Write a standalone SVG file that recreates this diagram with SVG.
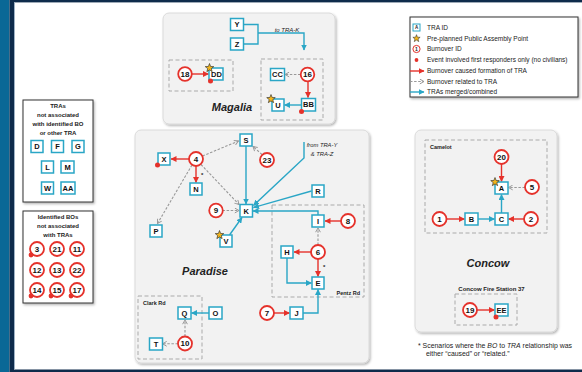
<svg xmlns="http://www.w3.org/2000/svg" xmlns:xlink="http://www.w3.org/1999/xlink" width="582" height="372" viewBox="0 0 582 372">
<defs>
<style>
.panel{fill:#f2f2f2;stroke:#d4d4d4;stroke-width:0.8;filter:url(#sh)}
.wpanel{fill:#fff;stroke:#333;stroke-width:1;filter:url(#sh)}
.dash{fill:none;stroke:#aaa;stroke-width:1;stroke-dasharray:4 2.5}
.box{fill:#fff;stroke:#2aa6c6;stroke-width:1.5}
.bo{fill:#fff;stroke:#e5322b;stroke-width:1.8}
.lbl{font-family:"Liberation Sans",Arial,sans-serif;font-weight:bold;font-size:7.5px;text-anchor:middle;fill:#111}
.num{font-family:"Liberation Sans",Arial,sans-serif;font-weight:bold;font-size:8px;text-anchor:middle;fill:#111}
.t{font-family:"Liberation Sans",Arial,sans-serif;fill:#222}
.b{font-weight:bold}
.ttl{font-family:"Liberation Sans",Arial,sans-serif;font-weight:bold;font-style:italic;font-size:11px;text-anchor:middle;fill:#222}
.red{fill:none;stroke:#e5322b;stroke-width:1.4;marker-end:url(#mr)}
.cy{fill:none;stroke:#2aa6c6;stroke-width:1.4;marker-end:url(#mc)}
.gr{fill:none;stroke:#999;stroke-width:1.1;stroke-dasharray:2.5 1.6;marker-end:url(#mg)}
.dot{fill:#e5322b}
.star{fill:#f2b51c;stroke:#222;stroke-width:0.6}
</style>
<filter id="sh" x="-10%" y="-10%" width="125%" height="125%">
<feDropShadow dx="1.2" dy="1.5" stdDeviation="1.2" flood-color="#000" flood-opacity="0.3"/>
</filter>
<marker id="mr" markerUnits="userSpaceOnUse" markerWidth="6" markerHeight="6" refX="5.5" refY="3" orient="auto"><path d="M0,0 L6,3 L0,6 z" fill="#e5322b"/></marker>
<marker id="mc" markerUnits="userSpaceOnUse" markerWidth="6" markerHeight="6" refX="5.5" refY="3" orient="auto"><path d="M0,0 L6,3 L0,6 z" fill="#2aa6c6"/></marker>
<marker id="mg" markerUnits="userSpaceOnUse" markerWidth="6" markerHeight="6" refX="5" refY="3" orient="auto"><path d="M0.8,0.6 L5,3 L0.8,5.4" fill="none" stroke="#999" stroke-width="1"/></marker>
<path id="star" class="star" d="M0,-4.5 L1.12,-1.54 L4.28,-1.39 L1.81,0.59 L2.65,3.64 L0,1.9 L-2.65,3.64 L-1.81,0.59 L-4.28,-1.39 L-1.12,-1.54 Z"/>
</defs>

<!-- frame -->
<rect x="0" y="0" width="582" height="372" fill="#fff"/>
<rect x="0" y="0" width="9.5" height="372" fill="#0a6896"/>
<rect x="9.5" y="0" width="4.5" height="372" fill="#0e2b4b"/>
<rect x="14" y="0" width="568" height="2.4" fill="#0e2b4b"/>
<rect x="14" y="369.5" width="568" height="2.5" fill="#0e2b4b"/>
<rect x="14" y="2.4" width="1" height="367" fill="#9fb3c6"/>

<!-- panels -->
<g id="magalia-panel">
<rect class="panel" x="163" y="13" width="172" height="111" rx="6"/>
<rect class="dash" x="169" y="60" width="64" height="31"/>
<rect class="dash" x="261" y="59" width="62" height="61"/>
<text class="ttl" x="232" y="111">Magalia</text>
<text class="t" x="287" y="32" font-size="6" font-style="italic" text-anchor="middle">to TRA-K</text>
</g>
<g id="paradise-panel">
<rect class="panel" x="135" y="130" width="234" height="233" rx="6"/>
<rect class="dash" x="272" y="205" width="92" height="92"/>
<rect class="dash" x="138" y="296" width="64" height="63"/>
<text class="ttl" x="205" y="275">Paradise</text>
<text class="t b" x="360" y="294.5" font-size="5.5" text-anchor="end">Pentz Rd</text>
<text class="t b" x="143" y="305" font-size="5.5">Clark Rd</text>
<text class="t" font-size="5.8" font-style="italic" text-anchor="middle"><tspan x="322" y="147">from TRA-Y</tspan><tspan x="322" y="156">&amp; TRA-Z</tspan></text>
</g>
<g id="concow-panel">
<rect class="panel" x="415" y="130" width="142" height="202" rx="6"/>
<rect class="dash" x="425" y="140" width="122" height="93"/>
<rect class="dash" x="455" y="294" width="62" height="31"/>
<text class="t b" x="430" y="149" font-size="5.5">Camelot</text>
<text class="ttl" x="488" y="267">Concow</text>
<text class="t b" x="491.5" y="290.5" font-size="6" text-anchor="middle">Concow Fire Station 37</text>
</g>

<!-- left panels -->
<g id="unassoc-tras">
<rect class="wpanel" x="23" y="100" width="70" height="102"/>
<text class="t b" font-size="6" text-anchor="middle"><tspan x="58" y="107.5">TRAs</tspan><tspan x="58" y="116.5">not associated</tspan><tspan x="58" y="125.5">with identified BO</tspan><tspan x="58" y="134.5">or other TRA</tspan></text>
<g id="D"><rect class="box" x="31" y="140.5" width="12" height="12"/><text class="lbl" x="37" y="149.2">D</text></g>
<g id="F"><rect class="box" x="51.5" y="140.5" width="12" height="12"/><text class="lbl" x="57.5" y="149.2">F</text></g>
<g id="G"><rect class="box" x="72" y="140.5" width="12" height="12"/><text class="lbl" x="78" y="149.2">G</text></g>
<g id="L"><rect class="box" x="41.5" y="161" width="12" height="12"/><text class="lbl" x="47.5" y="169.7">L</text></g>
<g id="M"><rect class="box" x="61" y="161" width="13" height="12"/><text class="lbl" x="67.5" y="169.7">M</text></g>
<g id="W"><rect class="box" x="41.5" y="182" width="12" height="12"/><text class="lbl" x="47.5" y="190.7">W</text></g>
<g id="AA"><rect class="box" x="61" y="182" width="14" height="12"/><text class="lbl" x="68" y="190.7">AA</text></g>
</g>
<g id="unassoc-bos">
<rect class="wpanel" x="23" y="211" width="70" height="92"/>
<text class="t b" font-size="6" text-anchor="middle"><tspan x="58" y="219">Identified BOs</tspan><tspan x="58" y="228">not associated</tspan><tspan x="58" y="237">with TRAs</tspan></text>
<g id="BO3"><circle class="bo" cx="37" cy="249" r="7"/><text class="num" x="37" y="251.9">3</text><circle class="dot" cx="31" cy="255" r="2.4"/></g>
<g id="BO21"><circle class="bo" cx="57" cy="249" r="7"/><text class="num" x="57" y="251.9">21</text></g>
<g id="BO11"><circle class="bo" cx="77" cy="249" r="7"/><text class="num" x="77" y="251.9">11</text></g>
<g id="BO12"><circle class="bo" cx="37" cy="270" r="7"/><text class="num" x="37" y="272.9">12</text></g>
<g id="BO13"><circle class="bo" cx="57" cy="270" r="7"/><text class="num" x="57" y="272.9">13</text></g>
<g id="BO22"><circle class="bo" cx="77" cy="270" r="7"/><text class="num" x="77" y="272.9">22</text></g>
<g id="BO14"><circle class="bo" cx="37" cy="290" r="7"/><text class="num" x="37" y="292.9">14</text><circle class="dot" cx="31" cy="296" r="2.4"/></g>
<g id="BO15"><circle class="bo" cx="57" cy="290" r="7"/><text class="num" x="57" y="292.9">15</text><circle class="dot" cx="51" cy="296" r="2.4"/></g>
<g id="BO17"><circle class="bo" cx="77" cy="290" r="7"/><text class="num" x="77" y="292.9">17</text><circle class="dot" cx="71" cy="296" r="2.4"/></g>
</g>

<!-- legend -->
<g id="legend">
<rect class="wpanel" x="410" y="17" width="168" height="80"/>
<rect x="413" y="24" width="7" height="7" fill="#fff" stroke="#2aa6c6" stroke-width="1"/>
<text class="t b" x="416.5" y="29.3" font-size="4.5" text-anchor="middle">A</text>
<use href="#star" xlink:href="#star" transform="translate(416.5,38.5) scale(0.85)"/>
<circle cx="416.5" cy="49" r="3.6" fill="#fff" stroke="#e5322b" stroke-width="1"/>
<text class="t b" x="416.5" y="50.8" font-size="5" text-anchor="middle">1</text>
<circle class="dot" cx="416.5" cy="60" r="1.9"/>
<line class="red" x1="410" y1="71" x2="424" y2="71"/>
<line class="gr" x1="410" y1="81.5" x2="424" y2="81.5"/>
<line class="cy" x1="410" y1="92" x2="424" y2="92"/>
<g class="t" font-size="6.5" fill="#111">
<text x="427" y="29.7">TRA ID</text>
<text x="427" y="40.7">Pre-planned Public Assembly Point</text>
<text x="427" y="51.2">Burnover ID</text>
<text x="427" y="62.2">Event involved first responders only (no civilians)</text>
<text x="427" y="73.2">Burnover caused formation of TRA</text>
<text x="427" y="83.7">Burnover related to TRA</text>
<text x="427" y="94.2">TRAs merged/combined</text>
</g>
</g>

<!-- connectors -->
<g id="connectors">
<!-- Magalia -->
<path fill="none" stroke="#2aa6c6" stroke-width="1.4" d="M244,24.5 H258 V44 H244"/>
<path class="cy" d="M258,33 H304 V50"/>
<line class="red" x1="191.5" y1="74" x2="208.5" y2="74"/>
<line class="gr" x1="300.5" y1="74.5" x2="285" y2="74.5"/>
<line class="red" x1="308" y1="81.5" x2="308" y2="97.5"/>
<line class="cy" x1="301" y1="105" x2="284.5" y2="105"/>
<!-- Paradise -->
<line class="red" x1="189" y1="159" x2="171" y2="159"/>
<line class="red" x1="196" y1="166" x2="196" y2="182.5"/>
<line class="gr" x1="202.5" y1="156" x2="238.5" y2="141"/>
<line class="gr" x1="201" y1="164.5" x2="239" y2="204.5"/>
<line class="gr" x1="192" y1="165" x2="157.5" y2="223.5"/>
<line class="gr" x1="262" y1="154.5" x2="253" y2="146.5"/>
<line class="cy" x1="246" y1="146" x2="246" y2="204"/>
<line class="gr" x1="222.5" y1="210.5" x2="239" y2="210.5"/>
<line class="cy" x1="229.5" y1="235" x2="242" y2="217.5"/>
<path class="cy" d="M304,142 V158 L253.5,205.5"/>
<line class="cy" x1="311.5" y1="191" x2="253.5" y2="207.5"/>
<path class="cy" d="M318,215 V211 H253"/>
<line class="red" x1="341" y1="221" x2="325" y2="221"/>
<line class="gr" x1="318" y1="245" x2="318" y2="228"/>
<line class="red" x1="311" y1="252" x2="294" y2="252"/>
<line class="red" x1="318" y1="259" x2="318" y2="276.5"/>
<path class="cy" d="M287,258 V283 H311.5"/>
<line class="red" x1="274" y1="313" x2="289.5" y2="313"/>
<path class="cy" d="M303,313 H318 V289.5"/>
<line class="cy" x1="209" y1="313" x2="191.5" y2="313"/>
<line class="gr" x1="185" y1="336.5" x2="185" y2="320"/>
<line class="gr" x1="178" y1="343.8" x2="162.5" y2="343.8"/>
<!-- Concow -->
<line class="red" x1="501.5" y1="164" x2="501.5" y2="181.5"/>
<line class="gr" x1="525" y1="187.5" x2="508.5" y2="187.5"/>
<line class="cy" x1="501.5" y1="213" x2="501.5" y2="194.5"/>
<line class="cy" x1="478" y1="219" x2="494.5" y2="219"/>
<line class="red" x1="446.5" y1="219" x2="464.5" y2="219"/>
<line class="red" x1="524" y1="219" x2="508.5" y2="219"/>
<line class="red" x1="477" y1="310" x2="494.5" y2="310"/>
</g>

<!-- Magalia nodes -->
<g id="Y"><rect class="box" x="230.5" y="18.5" width="13" height="12"/><text class="lbl" x="237" y="27.2">Y</text></g>
<g id="Z"><rect class="box" x="230.5" y="38" width="13" height="12"/><text class="lbl" x="237" y="46.7">Z</text></g>
<g id="BO18"><circle class="bo" cx="185" cy="74" r="6.8"/><text class="num" x="185" y="76.9">18</text></g>
<g id="DD"><rect class="box" x="209" y="68" width="14" height="12"/><use href="#star" xlink:href="#star" x="209.5" y="68"/><text class="lbl" x="216.5" y="76.9">DD</text><circle class="dot" cx="210.5" cy="81" r="2.5"/></g>
<g id="CC"><rect class="box" x="270.5" y="68.5" width="14" height="12"/><text class="lbl" x="277.5" y="77.2">CC</text></g>
<g id="BO16"><circle class="bo" cx="307.5" cy="74.5" r="6.8"/><text class="num" x="307.5" y="77.4">16</text></g>
<g id="BB"><rect class="box" x="301.5" y="98.5" width="14" height="12.5"/><text class="lbl" x="308.5" y="107.4">BB</text><circle class="dot" cx="301.5" cy="111.5" r="2.5"/></g>
<g id="U"><rect class="box" x="272" y="99" width="12" height="12"/><use href="#star" xlink:href="#star" x="271" y="99"/><text class="lbl" x="278" y="107.9">U</text></g>

<!-- Paradise nodes -->
<g id="S"><rect class="box" x="240" y="134" width="12" height="12"/><text class="lbl" x="246" y="142.7">S</text></g>
<g id="X"><rect class="box" x="158" y="153" width="12" height="12"/><text class="lbl" x="164" y="161.7">X</text><circle class="dot" cx="157.5" cy="165" r="2.5"/></g>
<g id="BO4"><circle class="bo" cx="196" cy="159" r="7"/><text class="num" x="196" y="161.9">4</text><text class="t b" x="201" y="177" font-size="6">*</text></g>
<g id="N"><rect class="box" x="190" y="183" width="12" height="12"/><text class="lbl" x="196" y="191.7">N</text></g>
<g id="BO23"><circle class="bo" cx="267" cy="160" r="7"/><text class="num" x="267" y="162.9">23</text></g>
<g id="K"><rect class="box" x="240" y="204.5" width="12.5" height="12.5"/><text class="lbl" x="246.3" y="213.5">K</text></g>
<g id="BO9"><circle class="bo" cx="216" cy="210.5" r="6.8"/><text class="num" x="216" y="213.4">9</text></g>
<g id="P"><rect class="box" x="150" y="225" width="12" height="12"/><text class="lbl" x="156" y="233.7">P</text></g>
<g id="V"><rect class="box" x="220" y="235" width="12" height="12"/><use href="#star" xlink:href="#star" x="219.5" y="235"/><text class="lbl" x="226" y="243.7">V</text></g>
<g id="R"><rect class="box" x="312" y="185" width="12" height="12"/><text class="lbl" x="318" y="193.7">R</text></g>
<g id="I"><rect class="box" x="312" y="215" width="12" height="12"/><text class="lbl" x="318" y="223.7">I</text></g>
<g id="BO8"><circle class="bo" cx="348" cy="221" r="7"/><text class="num" x="348" y="223.9">8</text></g>
<g id="BO6"><circle class="bo" cx="318" cy="252" r="7"/><text class="num" x="318" y="254.9">6</text><text class="t b" x="323" y="269" font-size="6">*</text></g>
<g id="H"><rect class="box" x="281" y="246" width="12" height="12"/><text class="lbl" x="287" y="254.7">H</text></g>
<g id="E"><rect class="box" x="312" y="277" width="12" height="12"/><text class="lbl" x="318" y="285.7">E</text></g>
<g id="BO7"><circle class="bo" cx="267" cy="313" r="7"/><text class="num" x="267" y="315.9">7</text></g>
<g id="J"><rect class="box" x="290" y="307" width="13" height="12"/><text class="lbl" x="296.5" y="315.7">J</text></g>
<g id="Q"><rect class="box" x="178" y="307" width="13" height="12"/><text class="lbl" x="184.5" y="315.7">Q</text></g>
<g id="O"><rect class="box" x="209" y="307" width="13" height="12"/><text class="lbl" x="215.5" y="315.7">O</text></g>
<g id="BO10"><circle class="bo" cx="185" cy="343.5" r="7"/><text class="num" x="185" y="346.4">10</text></g>
<g id="T"><rect class="box" x="149.5" y="338" width="13" height="12"/><text class="lbl" x="156" y="346.7">T</text></g>

<!-- Concow nodes -->
<g id="BO20"><circle class="bo" cx="501.5" cy="157" r="7"/><text class="num" x="501.5" y="159.9">20</text></g>
<g id="A"><rect class="box" x="495" y="182" width="13" height="12"/><use href="#star" xlink:href="#star" x="495" y="182"/><text class="lbl" x="501.5" y="190.7">A</text></g>
<g id="BO5"><circle class="bo" cx="532" cy="187" r="7"/><text class="num" x="532" y="189.9">5</text></g>
<g id="C"><rect class="box" x="495" y="213" width="13" height="12"/><text class="lbl" x="501.5" y="221.7">C</text></g>
<g id="B"><rect class="box" x="465" y="213" width="13" height="12"/><text class="lbl" x="471.5" y="221.7">B</text></g>
<g id="BO1"><circle class="bo" cx="439.5" cy="219" r="7"/><text class="num" x="439.5" y="221.9">1</text></g>
<g id="BO2"><circle class="bo" cx="531" cy="219" r="7"/><text class="num" x="531" y="221.9">2</text></g>
<g id="BO19"><circle class="bo" cx="470" cy="310" r="7"/><text class="num" x="470" y="312.9">19</text></g>
<g id="EE"><rect class="box" x="495" y="304" width="13" height="12"/><text class="lbl" x="501.5" y="312.7">EE</text><circle class="dot" cx="496" cy="317" r="2.5"/></g>

<!-- footnote -->
<g id="footnote" class="t" font-size="6.9">
<text x="418" y="348">* Scenarios where the <tspan font-style="italic">BO</tspan> to <tspan font-style="italic">TRA</tspan> relationship was</text>
<text x="426" y="356">either “caused” or “related.”</text>
</g>
</svg>
